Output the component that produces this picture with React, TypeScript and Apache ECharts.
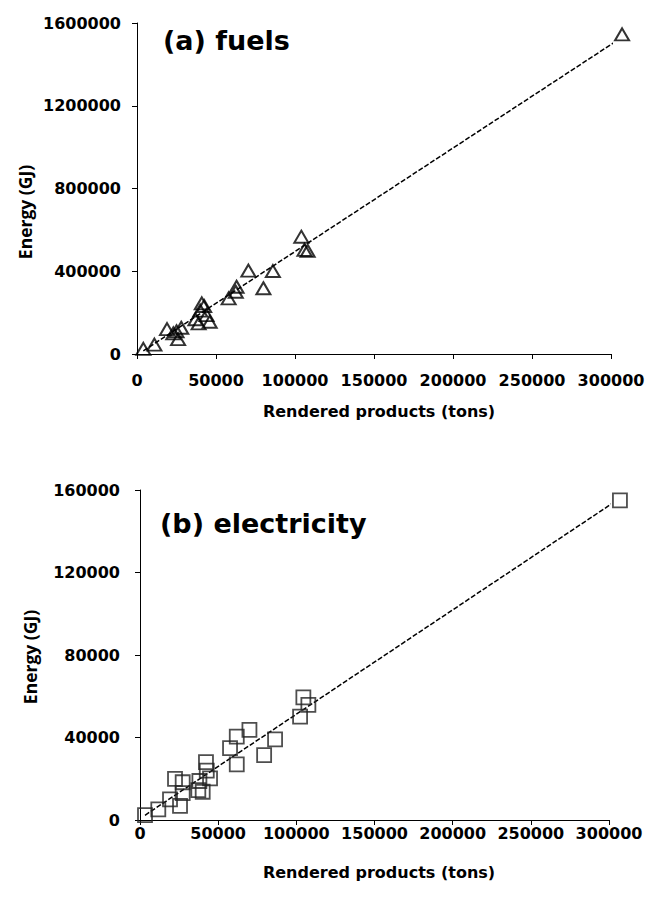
import React, { useEffect, useRef } from "react";
import * as echarts from "echarts";

// (a) fuels: rendered products (tons) vs energy (GJ)
const fuelsX = [4000, 11000, 19000, 23000, 26000, 28000, 25000, 37000, 39000, 41000, 42500, 40000, 44000, 46000, 58000, 63000, 62500, 70500, 80000, 86000, 104000, 106000, 108000, 307000];
const fuelsY = [25000, 45000, 120000, 100000, 72000, 127000, 110000, 168000, 148000, 245000, 232000, 210000, 188000, 156000, 269000, 325000, 301000, 403000, 318000, 401000, 567000, 503000, 499000, 1545000];
const fuelsTrendX = [4000, 306800];
const fuelsTrendY = [15000, 1530000];

// (b) electricity
const elecX = [3200, 11700, 19200, 25600, 22400, 27300, 27300, 38000, 42200, 42700, 44800, 37300, 40100, 57600, 61900, 61900, 70000, 86400, 79400, 104500, 107700, 102400, 307000];
const elecY = [2400, 5200, 10000, 6800, 19900, 18300, 13000, 18900, 28100, 23900, 20200, 14500, 13700, 34800, 40400, 27000, 43700, 39100, 31500, 59500, 55800, 50100, 155000];
const elecTrendX = [3200, 307000];
const elecTrendY = [2300, 156000];

const xTicks = { min: 0, max: 300000, interval: 50000 };
const fuelsTicks = { min: 0, max: 1600000, interval: 400000 };
const elecTicks = { min: 0, max: 160000, interval: 40000 };

const titles = ["(a) fuels", "(b) electricity"];
const xName = "Rendered products (tons)";
const yName = "Energy (GJ)";

const FONT = "DejaVu Sans";

const zip = (xs: number[], ys: number[]) => xs.map((x, i) => [x, ys[i]]);

export default function App() {
  const ref = useRef<HTMLDivElement>(null);
  useEffect(() => {
    document.body.style.margin = "0";
    const chart = echarts.init(ref.current!, null, { renderer: "svg" });
    const axisCommon = {
      axisLine: { show: true, lineStyle: { color: "#000", width: 1 } },
      axisTick: { show: true, inside: false, length: 5, lineStyle: { color: "#000", width: 1 } },
      splitLine: { show: false },
      axisLabel: {
        color: "#000",
        fontFamily: FONT,
        fontWeight: "bold",
        fontSize: 16,
        formatter: (v: number) => String(v),
      },
    };
    const textStyle = (text: string, size: number, family = FONT) => ({
      text,
      fontFamily: family,
      fontWeight: "bold",
      fontSize: size,
      fill: "#000",
      textAlign: "center",
      textVerticalAlign: "middle",
    });
    chart.setOption({
      animation: false,
      backgroundColor: "#fff",
      grid: [
        { left: 137, right: 43, top: 23, height: 331 },
        { left: 140, right: 45, top: 490, height: 330 },
      ],
      xAxis: [
        { ...axisCommon, type: "value", gridIndex: 0, ...xTicks, axisLabel: { ...axisCommon.axisLabel, margin: 18 } },
        { ...axisCommon, type: "value", gridIndex: 1, ...xTicks, axisLabel: { ...axisCommon.axisLabel, margin: 5 } },
      ],
      yAxis: [
        { ...axisCommon, type: "value", gridIndex: 0, ...fuelsTicks, axisLabel: { ...axisCommon.axisLabel, margin: 16 } },
        { ...axisCommon, type: "value", gridIndex: 1, ...elecTicks, axisLabel: { ...axisCommon.axisLabel, margin: 20 } },
      ],
      graphic: [
        { type: "text", left: 163, top: 27, style: { ...textStyle(titles[0], 27), textAlign: "left", textVerticalAlign: "top" } },
        { type: "text", left: 160, top: 510, style: { ...textStyle(titles[1], 27), textAlign: "left", textVerticalAlign: "top" } },
        { type: "text", x: 25, y: 212, rotation: Math.PI / 2, style: textStyle(yName, 17.5, "Open Sans") },
        { type: "text", x: 30, y: 657, rotation: Math.PI / 2, style: textStyle(yName, 17.5, "Open Sans") },
        { type: "text", x: 379, y: 411, style: textStyle(xName, 16) },
        { type: "text", x: 379, y: 872, style: textStyle(xName, 16) },
      ],
      series: [
        {
          type: "line",
          xAxisIndex: 0,
          yAxisIndex: 0,
          data: zip(fuelsTrendX, fuelsTrendY),
          symbol: "none",
          clip: false,
          lineStyle: { color: "#000", width: 1.5, type: [5, 2] },
          z: 1,
        },
        {
          type: "scatter",
          xAxisIndex: 0,
          yAxisIndex: 0,
          data: zip(fuelsX, fuelsY),
          symbol: "triangle",
          symbolSize: [14, 12],
          clip: false,
          itemStyle: { color: "rgba(0,0,0,0)", borderColor: "#000", borderWidth: 2 },
          z: 2,
        },
        {
          type: "line",
          xAxisIndex: 1,
          yAxisIndex: 1,
          data: zip(elecTrendX, elecTrendY),
          symbol: "none",
          clip: false,
          lineStyle: { color: "#000", width: 1.5, type: [5, 2] },
          z: 1,
        },
        {
          type: "scatter",
          xAxisIndex: 1,
          yAxisIndex: 1,
          data: zip(elecX, elecY),
          symbol: "rect",
          symbolSize: 14,
          clip: false,
          itemStyle: { color: "rgba(0,0,0,0)", borderColor: "#222", borderWidth: 1.8 },
          z: 2,
        },
      ],
    });
    return () => chart.dispose();
  }, []);
  return <div ref={ref} style={{ width: 654, height: 908 }} />;
}
